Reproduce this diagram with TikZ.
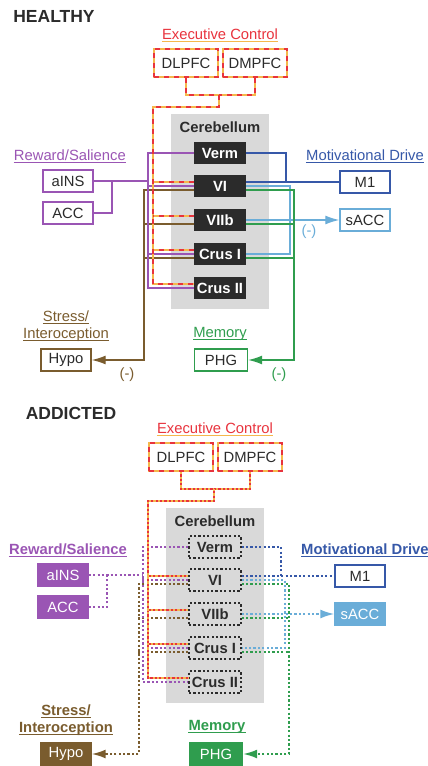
\documentclass[tikz,border=0pt]{standalone}
\usepackage{fontspec}
\setmainfont{Liberation Sans}
\usetikzlibrary{arrows.meta}
\definecolor{exred}{HTML}{E8333D}
\definecolor{exorange}{HTML}{F5B84C}
\definecolor{rwpurple}{HTML}{9A55B4}
\definecolor{mdblue}{HTML}{3658A8}
\definecolor{sablue}{HTML}{6AADD8}
\definecolor{megreen}{HTML}{2F9D4E}
\definecolor{stbrown}{HTML}{7A5C2E}
\definecolor{cbgray}{HTML}{D9D9D9}
\definecolor{cbdark}{HTML}{2B2B2B}
\tikzset{
    every node/.style={font=\fontsize{14.8}{17}\selectfont, text=cbdark}
}
\tikzset{
    region/.style={draw, line width=1.4pt, fill=white, minimum width=50pt,
    	minimum height=22pt, inner sep=0pt},
    fullregion/.style={region, fill=#1, draw=#1, text=white},
    prefrontal/.style={draw=exorange, line width=2.4pt, fill=white,
    	minimum width=64pt, minimum height=28pt, inner sep=0pt,
    	postaction={draw=exred, line width=1.2pt, dash pattern=on 5pt off 5pt}},
    lobule/.style={fill=cbdark, text=white, minimum width=52pt,
    	minimum height=22pt, inner sep=0pt,
    	font=\fontsize{14.8}{17}\selectfont\bfseries},
    dotlobule/.style={lobule, fill=none, text=cbdark, draw=cbdark,
    	line width=1.3pt, dash pattern=on 2.2pt off 2.2pt},
    heading/.style={inner sep=0pt, text depth=0pt},
    boldheading/.style={heading, font=\fontsize{14.8}{17}\selectfont\bfseries},
    title/.style={heading, font=\fontsize{17.5}{20}\selectfont\bfseries}
}
\tikzset{
    wire/.style={line width=1.3pt},
    dotwire/.style={line width=1.8pt, dash pattern=on 2.2pt off 2.2pt},
    exwire/.style={draw=exorange, line width=2.4pt,
    	postaction={draw=exred, line width=1.1pt, dash pattern=on 5pt off 5pt}},
    exdotwire/.style={draw=exorange, dotwire,
    	postaction={draw=exred, dotwire, dash phase=2.2pt}},
    tip/.style={-{Latex[length=14pt, width=9pt]}}
}

\begin{document}
\begin{tikzpicture}[x=1pt, y=-1pt]
  \useasboundingbox (0,0) rectangle (428,766);

  \node (hTitle) [title] at (54,16) {HEALTHY};
  \node (hExLbl) [heading, text=exred] at (220,34) {Executive Control};
  \node (hDLPFC) [prefrontal] at (186,63) {DLPFC};
  \node (hDMPFC) [prefrontal] at (255,63) {DMPFC};
  \fill [cbgray] (171,114) rectangle (269,309);
  \node (hCereb) [boldheading] at (220,127) {Cerebellum};
  \node (hVerm) [lobule] at (220,153) {Verm};
  \node (hVI) [lobule] at (220,186) {VI};
  \node (hVIIb) [lobule] at (220,220) {VIIb};
  \node (hCrusI) [lobule] at (220,254) {Crus I};
  \node (hCrusII) [lobule] at (220,288) {Crus II};
  \node (hRwLbl) [heading, text=rwpurple, anchor=east] at (126,155) {Reward/Salience};
  \node (hINS) [region, draw=rwpurple] at (68,181) {aINS};
  \node (hACC) [region, draw=rwpurple] at (68,213) {ACC};
  \node (hMdLbl) [heading, text=mdblue] at (365,155) {Motivational Drive};
  \node (hM1) [region, draw=mdblue] at (365,182) {M1};
  \node (hsACC) [region, draw=sablue] at (365,220) {sACC};
  \node (hStLbl) [heading, text=stbrown] at (66,316) {Stress/};
  \node (hInLbl) [heading, text=stbrown] at (66,333) {Interoception};
  \node (hHypo) [region, draw=stbrown] at (66,360) {Hypo};
  \node (hMeLbl) [heading, text=megreen] at (220,332) {Memory};
  \node (hPHG) [region, draw=megreen, minimum width=53pt] at (221,360) {PHG};
  \node (hNeg1) [text=stbrown] at (127,375) {(-)};
  \node (hNeg2) [text=sablue] at (309,232) {(-)};
  \node (hNeg3) [text=megreen] at (279,375) {(-)};

  \draw [stbrown, wire, tip] ([yshift=-4pt]hVI.west) -| (144,360) -- (hHypo.east);
  \foreach \n in {hVIIb, hCrusI}
    \draw [stbrown, wire] ([yshift=-4pt]\n.west) -- ++(-50,0);
  \draw [rwpurple, wire] (hINS.east) -- (148,181);
  \draw [rwpurple, wire] (hACC.east) -| (112,181);
  \draw [rwpurple, wire] (hVerm.west) -| (148,288) -- (hCrusII.west);
  \foreach \n in {hVI, hCrusI}
    \draw [rwpurple, wire] (\n.west) -- ++(-46,0);
  \coordinate (hExJ) at (219,95);
  \draw [exwire] (hDLPFC.south) |- (hExJ);
  \draw [exwire] (hDMPFC.south) |- (hExJ);
  \draw [exwire] (hExJ) |- (153,107) |- ([yshift=4pt]hCrusII.west);
  \foreach \n in {hVI, hVIIb, hCrusI}
    \draw [exwire] ([yshift=4pt]\n.west) -- ++(-41,0);
  \draw [mdblue, wire] (hVerm.east) -| (286,182);
  \draw [mdblue, wire] ([yshift=4pt]hVI.east) -- (hM1.west);
  \draw [sablue, wire] (hVI.east) -| (290,254) -- (hCrusI.east);
  \draw [sablue, wire, tip] (hVIIb.east) -- (hsACC.west);
  \draw [megreen, wire, tip] ([yshift=-4pt]hVI.east) -| (294,360) -- (hPHG.east);
  \foreach \n in {hVIIb, hCrusI}
    \draw [megreen, wire] ([yshift=-4pt]\n.east) -- ++(48,0);

  \node (dTitle) [title] at (71,413) {ADDICTED};
  \node (dRwLbl) [boldheading, text=rwpurple, anchor=east] at (127,549) {Reward/Salience};
  \node (dMdLbl) [boldheading, text=mdblue, anchor=west] at (301,549) {Motivational Drive};
  \node (dStLbl) [boldheading, text=stbrown] at (66,710) {Stress/};
  \node (dInLbl) [boldheading, text=stbrown] at (66,727) {Interoception};
  \node (dHypo) [fullregion=stbrown] at (66,754) {Hypo};
  \node (dMeLbl) [boldheading, text=megreen] at (217,725) {Memory};

  \begin{scope}[shift={(-5,394)}]
    \node (dExLbl) [heading, text=exred] at (220,34) {Executive Control};
    \node (dDLPFC) [prefrontal] at (186,63) {DLPFC};
    \node (dDMPFC) [prefrontal] at (255,63) {DMPFC};
    \fill [cbgray] (171,114) rectangle (269,309);
    \node (dCereb) [boldheading] at (220,127) {Cerebellum};
    \node (dVerm) [dotlobule] at (220,153) {Verm};
    \node (dVI) [dotlobule] at (220,186) {VI};
    \node (dVIIb) [dotlobule] at (220,220) {VIIb};
    \node (dCrusI) [dotlobule] at (220,254) {Crus I};
    \node (dCrusII) [dotlobule] at (220,288) {Crus II};
    \node (dINS) [fullregion=rwpurple] at (68,181) {aINS};
    \node (dACC) [fullregion=rwpurple] at (68,213) {ACC};
    \node (dM1) [region, draw=mdblue] at (365,182) {M1};
    \node (dsACC) [fullregion=sablue] at (365,220) {sACC};
    \node (dPHG) [fullregion=megreen, minimum width=53pt] at (221,360) {PHG};

    \draw [stbrown, dotwire, tip] ([yshift=-4pt]dVI.west) -| (144,360) -- (dHypo.east);
    \foreach \n in {dVIIb, dCrusI}
      \draw [stbrown, dotwire] ([yshift=-4pt]\n.west) -- ++(-50,0);
    \draw [rwpurple, dotwire] (dINS.east) -- (148,181);
    \draw [rwpurple, dotwire] (dACC.east) -| (112,181);
    \draw [rwpurple, dotwire] (dVerm.west) -| (148,288) -- (dCrusII.west);
    \foreach \n in {dVI, dCrusI}
      \draw [rwpurple, dotwire] (\n.west) -- ++(-46,0);
    \coordinate (dExJ) at (219,95);
    \draw [exdotwire] (dDLPFC.south) |- (dExJ);
    \draw [exdotwire] (dDMPFC.south) |- (dExJ);
    \draw [exdotwire] (dExJ) |- (153,107) |- ([yshift=4pt]dCrusII.west);
    \foreach \n in {dVI, dVIIb, dCrusI}
      \draw [exdotwire] ([yshift=4pt]\n.west) -- ++(-41,0);
    \draw [mdblue, dotwire] (dVerm.east) -| (286,182);
    \draw [mdblue, dotwire] ([yshift=4pt]dVI.east) -- (dM1.west);
    \draw [sablue, dotwire] (dVI.east) -| (290,254) -- (dCrusI.east);
    \draw [sablue, dotwire, tip] (dVIIb.east) -- (dsACC.west);
    \draw [megreen, dotwire, tip] ([yshift=-4pt]dVI.east) -| (294,360) -- (dPHG.east);
    \foreach \n in {dVIIb, dCrusI}
      \draw [megreen, dotwire] ([yshift=-4pt]\n.east) -- ++(48,0);
  \end{scope}

  \foreach \l/\c in {hExLbl/exorange, hRwLbl/rwpurple, hMdLbl/mdblue,
      hStLbl/stbrown, hInLbl/stbrown, hMeLbl/megreen, dExLbl/exorange}
    \draw [\c, line width=1pt] ([yshift=-2pt]\l.south west) -- ([yshift=-2pt]\l.south east);
  \foreach \l/\c in {dRwLbl/rwpurple, dMdLbl/mdblue, dStLbl/stbrown,
      dInLbl/stbrown, dMeLbl/megreen}
    \draw [\c, line width=1.5pt] ([yshift=-2pt]\l.south west) -- ([yshift=-2pt]\l.south east);
\end{tikzpicture}
\end{document}
